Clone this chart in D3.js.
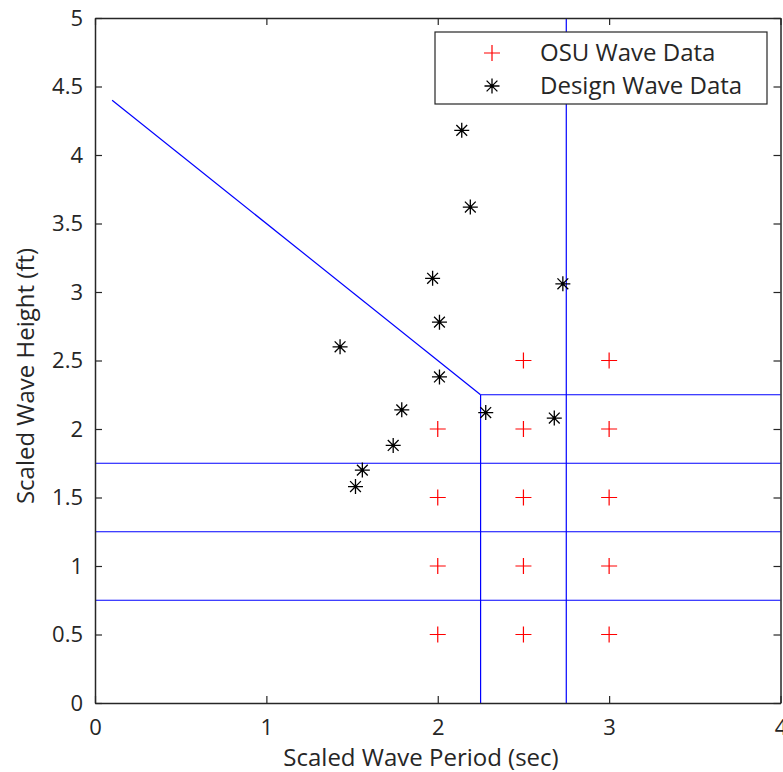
<!DOCTYPE html>
<html>
<head>
<meta charset="utf-8">
<script src="https://cdn.jsdelivr.net/npm/d3@7/dist/d3.min.js"></script>
<style>
  body { margin: 0; background: #fff; }
  text { font-family: "Open Sans", "Liberation Sans", sans-serif; fill: #262626; }
</style>
</head>
<body>
<svg id="chart" width="783" height="772"></svg>
<script>
// OSU wave data (period, height)
const osuPeriod = [2, 2, 2, 2, 2.5, 2.5, 2.5, 2.5, 2.5, 3, 3, 3, 3, 3];
const osuHeight = [0.5, 1, 1.5, 2, 0.5, 1, 1.5, 2, 2.5, 0.5, 1, 1.5, 2, 2.5];

// Design wave data (period, height)
const designPeriod = [2.14, 2.19, 1.97, 2.73, 2.01, 1.43, 2.01, 1.79, 2.28, 2.68, 1.74, 1.56, 1.52];
const designHeight = [4.18, 3.62, 3.10, 3.06, 2.78, 2.60, 2.38, 2.14, 2.12, 2.08, 1.88, 1.70, 1.58];

// Region boundary segments: [x1, y1, x2, y2]
const boundaries = [
  [0, 0.75, 4, 0.75],
  [0, 1.25, 4, 1.25],
  [0, 1.75, 4, 1.75],
  [2.25, 2.25, 4, 2.25],
  [2.25, 0, 2.25, 2.25],
  [2.75, 0, 2.75, 5],
  [0.1, 4.4, 2.25, 2.25]
];

const xTicks = [0, 1, 2, 3, 4];
const yTicks = [0, 0.5, 1, 1.5, 2, 2.5, 3, 3.5, 4, 4.5, 5];
const legendLabels = ["OSU Wave Data", "Design Wave Data"];

const margin = { left: 95, top: 18, right: 2.5, bottom: 69 };
const W = 783, H = 772;
const svg = d3.select("#chart");

const x = d3.scaleLinear().domain([0, 4]).range([margin.left, W - margin.right]);
const y = d3.scaleLinear().domain([0, 5]).range([H - margin.bottom, margin.top]);

const axisColor = "#262626";
const fontStack = "'Open Sans', 'Liberation Sans', sans-serif";

// Boundary lines
svg.append("g").selectAll("line").data(boundaries).join("line")
  .attr("x1", d => x(d[0])).attr("y1", d => y(d[1]))
  .attr("x2", d => x(d[2])).attr("y2", d => y(d[3]))
  .attr("stroke", "#0000ff").attr("stroke-width", 1.2);

// Plus markers
const plusSize = 8;
const osu = svg.append("g");
osuPeriod.forEach((p, i) => {
  const cx = x(p), cy = y(osuHeight[i]);
  osu.append("path")
    .attr("d", `M${cx - plusSize},${cy}H${cx + plusSize}M${cx},${cy - plusSize}V${cy + plusSize}`)
    .attr("stroke", "#ff0000").attr("stroke-width", 1.2).attr("fill", "none");
});

// Asterisk markers
function asterisk(cx, cy, r) {
  const d = [];
  d.push(`M${cx - r},${cy}H${cx + r}`);
  d.push(`M${cx},${cy - r}V${cy + r}`);
  const k = r * 0.72;
  d.push(`M${cx - k},${cy - k}L${cx + k},${cy + k}`);
  d.push(`M${cx - k},${cy + k}L${cx + k},${cy - k}`);
  return d.join("");
}
const design = svg.append("g");
designPeriod.forEach((p, i) => {
  design.append("path")
    .attr("d", asterisk(x(p), y(designHeight[i]), 7.5))
    .attr("stroke", "#000").attr("stroke-width", 1.3).attr("fill", "none");
  design.append("circle").attr("cx", x(p)).attr("cy", y(designHeight[i])).attr("r", 1.6).attr("fill", "#000");
});

// Axes with inward ticks on all four sides
const tickLen = 7;
const axesG = svg.append("g");
axesG.append("g").attr("transform", `translate(0,${y(0)})`)
  .call(d3.axisBottom(x).tickValues(xTicks).tickFormat(d3.format("")).tickSizeInner(-tickLen).tickSizeOuter(0).tickPadding(16));
axesG.append("g").attr("transform", `translate(0,${y(5)})`)
  .call(d3.axisTop(x).tickValues(xTicks).tickFormat("").tickSizeInner(-tickLen).tickSizeOuter(0));
axesG.append("g").attr("transform", `translate(${x(0)},0)`)
  .call(d3.axisLeft(y).tickValues(yTicks).tickFormat(d3.format("")).tickSizeInner(-tickLen).tickSizeOuter(0).tickPadding(12));
axesG.append("g").attr("transform", `translate(${x(4)},0)`)
  .call(d3.axisRight(y).tickValues(yTicks).tickFormat("").tickSizeInner(-tickLen).tickSizeOuter(0));
axesG.selectAll("path.domain").attr("stroke", axisColor).attr("stroke-width", 1.5);
axesG.selectAll(".tick line").attr("stroke", axisColor).attr("stroke-width", 1.2);
axesG.selectAll(".tick text").attr("font-size", 22).attr("fill", axisColor)
  .style("font-family", fontStack);

// Axis titles
svg.append("text").attr("x", 421).attr("y", 766)
  .attr("text-anchor", "middle").attr("font-size", 24).text("Scaled Wave Period (sec)");
svg.append("text").attr("transform", `translate(34,376) rotate(-90)`)
  .attr("text-anchor", "middle").attr("font-size", 24).text("Scaled Wave Height (ft)");

// Legend
const lg = svg.append("g");
lg.append("rect").attr("x", 435).attr("y", 32).attr("width", 332).attr("height", 72)
  .attr("fill", "#fff").attr("stroke", axisColor).attr("stroke-width", 1.2);
const ly = [53, 86];
lg.append("path")
  .attr("d", `M${492 - plusSize},${ly[0]}H${492 + plusSize}M492,${ly[0] - plusSize}V${ly[0] + plusSize}`)
  .attr("stroke", "#ff0000").attr("stroke-width", 1.2);
lg.append("path").attr("d", asterisk(492, ly[1], 7.5)).attr("stroke", "#000").attr("stroke-width", 1.3).attr("fill", "none");
lg.append("circle").attr("cx", 492).attr("cy", ly[1]).attr("r", 1.6).attr("fill", "#000");
legendLabels.forEach((t, i) => {
  lg.append("text").attr("x", 540).attr("y", ly[i]).attr("dy", "0.35em")
    .attr("font-size", 24).text(t);
});
</script>
</body>
</html>
